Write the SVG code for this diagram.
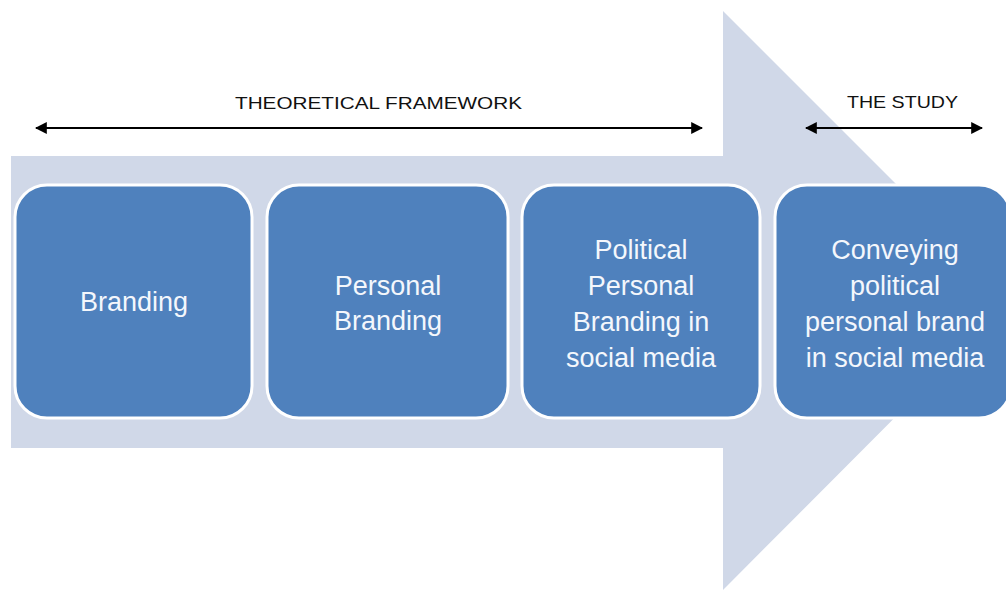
<svg xmlns="http://www.w3.org/2000/svg" width="1006" height="590" viewBox="0 0 1006 590">
<style>
.box{fill:#4f81bd;stroke:#ffffff;stroke-width:3}
.bt{font-family:"Liberation Sans",Arial,sans-serif;font-size:27px;fill:#f4f7fc;text-anchor:middle}
.lbl{font-family:"Liberation Sans",Arial,sans-serif;font-size:17px;fill:#111111}
.ln{stroke:#000000;stroke-width:2;fill:none}
</style>
<defs>
<marker id="ah" viewBox="0 0 10 10" refX="9" refY="5" markerWidth="6" markerHeight="6" orient="auto-start-reverse" markerUnits="strokeWidth">
<path d="M0,0 L10,5 L0,10 z" fill="#000000"/>
</marker>
</defs>
<rect width="1006" height="590" fill="#ffffff"/>
<g id="bigArrow">
<polygon points="11,156 723,156 723,11 1012,300 723,590 723,448 11,448" fill="#d0d8e8"/>
</g>
<g id="connectors">
<line class="ln" x1="36" y1="128" x2="702" y2="128" marker-start="url(#ah)" marker-end="url(#ah)"/>
<line class="ln" x1="806" y1="128" x2="982" y2="128" marker-start="url(#ah)" marker-end="url(#ah)"/>
</g>
<g id="label-theoretical">
<text class="lbl" x="235" y="109" textLength="287" lengthAdjust="spacingAndGlyphs">THEORETICAL FRAMEWORK</text>
</g>
<g id="label-study">
<text class="lbl" x="847" y="108" textLength="111" lengthAdjust="spacingAndGlyphs">THE STUDY</text>
</g>
<g id="node-branding">
<rect class="box" x="15" y="185" width="237" height="233" rx="32"/>
<text class="bt" x="134" y="311">Branding</text>
</g>
<g id="node-personal-branding">
<rect class="box" x="267" y="185" width="241" height="233" rx="32"/>
<text class="bt" x="388" y="295">Personal</text>
<text class="bt" x="388" y="330">Branding</text>
</g>
<g id="node-political">
<rect class="box" x="522" y="185" width="238" height="233" rx="32"/>
<text class="bt" x="641" y="259">Political</text>
<text class="bt" x="641" y="295">Personal</text>
<text class="bt" x="641" y="331">Branding in</text>
<text class="bt" x="641" y="367">social media</text>
</g>
<g id="node-conveying">
<rect class="box" x="775" y="185" width="236" height="233" rx="32"/>
<text class="bt" x="895" y="259">Conveying</text>
<text class="bt" x="895" y="295">political</text>
<text class="bt" x="895" y="331">personal brand</text>
<text class="bt" x="895" y="367">in social media</text>
</g>
</svg>
